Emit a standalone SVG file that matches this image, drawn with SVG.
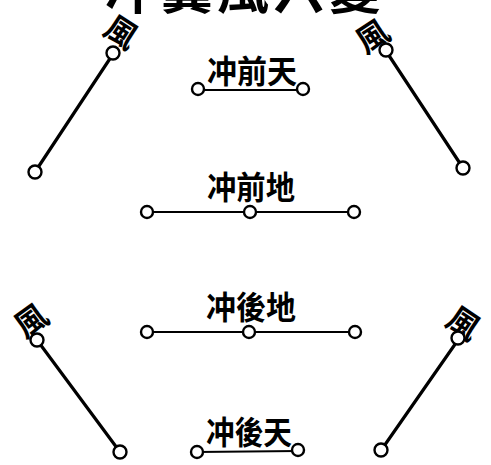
<svg xmlns="http://www.w3.org/2000/svg" width="491" height="465" viewBox="0 0 491 465">
<style>
.t{font-family:"Noto Sans CJK TC","Noto Sans CJK SC",sans-serif;font-weight:bold;fill:#000;text-anchor:middle}
.lab{font-size:32px}
.feng{font-size:32px}
.bar{stroke:#000;stroke-width:2.2;fill:none}
.diag{stroke:#000;stroke-width:3.2;fill:none;stroke-linecap:round}
.c{fill:#fff;stroke:#000;stroke-width:2.4}
</style>
<rect width="491" height="465" fill="#fff"/>
<text class="t" x="245" y="9" font-size="52" letter-spacing="4">冲翼風六變</text>
<g id="connectors">
<line class="diag" x1="113" y1="54" x2="35" y2="172"/>
<line class="diag" x1="386" y1="51" x2="463" y2="168"/>
<line class="diag" x1="37" y1="340" x2="120" y2="452"/>
<line class="diag" x1="458" y1="340" x2="382" y2="449"/>
<line class="bar" x1="198" y1="90" x2="303" y2="90"/>
<line class="bar" x1="147" y1="212" x2="354" y2="212"/>
<line class="bar" x1="147" y1="332" x2="355" y2="332"/>
<line class="bar" x1="197" y1="452" x2="298" y2="451"/>
</g>
<g id="feng-top-left">
<text class="t feng" transform="translate(115,42) rotate(33)" x="0" y="0">風</text>
<circle class="c" cx="113" cy="53" r="6.5"/>
<circle class="c" cx="35" cy="172" r="6.5"/>
</g>
<g id="feng-top-right">
<text class="t feng" transform="translate(379,46) rotate(-33)" x="0" y="0">風</text>
<circle class="c" cx="386" cy="50" r="6.5"/>
<circle class="c" cx="463" cy="168" r="6.5"/>
</g>
<g id="feng-bottom-left">
<text class="t feng" transform="translate(38,330) rotate(-36)" x="0" y="0">風</text>
<circle class="c" cx="37" cy="340" r="6.5"/>
<circle class="c" cx="120" cy="452" r="6.5"/>
</g>
<g id="feng-bottom-right">
<text class="t feng" transform="translate(457,333) rotate(34)" x="0" y="0">風</text>
<circle class="c" cx="458" cy="338" r="6.5"/>
<circle class="c" cx="381" cy="450" r="6.5"/>
</g>
<g id="chong-qian-tian">
<text class="t lab" x="252" y="83" textLength="90" lengthAdjust="spacingAndGlyphs">冲前天</text>
<circle class="c" cx="198" cy="89" r="6"/>
<circle class="c" cx="303" cy="89" r="6"/>
</g>
<g id="chong-qian-di">
<text class="t lab" x="251" y="199" textLength="88" lengthAdjust="spacingAndGlyphs">冲前地</text>
<circle class="c" cx="147" cy="212" r="6"/>
<circle class="c" cx="250" cy="212" r="6"/>
<circle class="c" cx="354" cy="212" r="6"/>
</g>
<g id="chong-hou-di">
<text class="t lab" x="251" y="319" textLength="90" lengthAdjust="spacingAndGlyphs">冲後地</text>
<circle class="c" cx="147" cy="332" r="6"/>
<circle class="c" cx="249" cy="332" r="6"/>
<circle class="c" cx="355" cy="332" r="6"/>
</g>
<g id="chong-hou-tian">
<text class="t lab" x="249" y="444" textLength="86" lengthAdjust="spacingAndGlyphs">冲後天</text>
<circle class="c" cx="197" cy="452" r="6"/>
<circle class="c" cx="298" cy="450" r="6"/>
</g>
</svg>
